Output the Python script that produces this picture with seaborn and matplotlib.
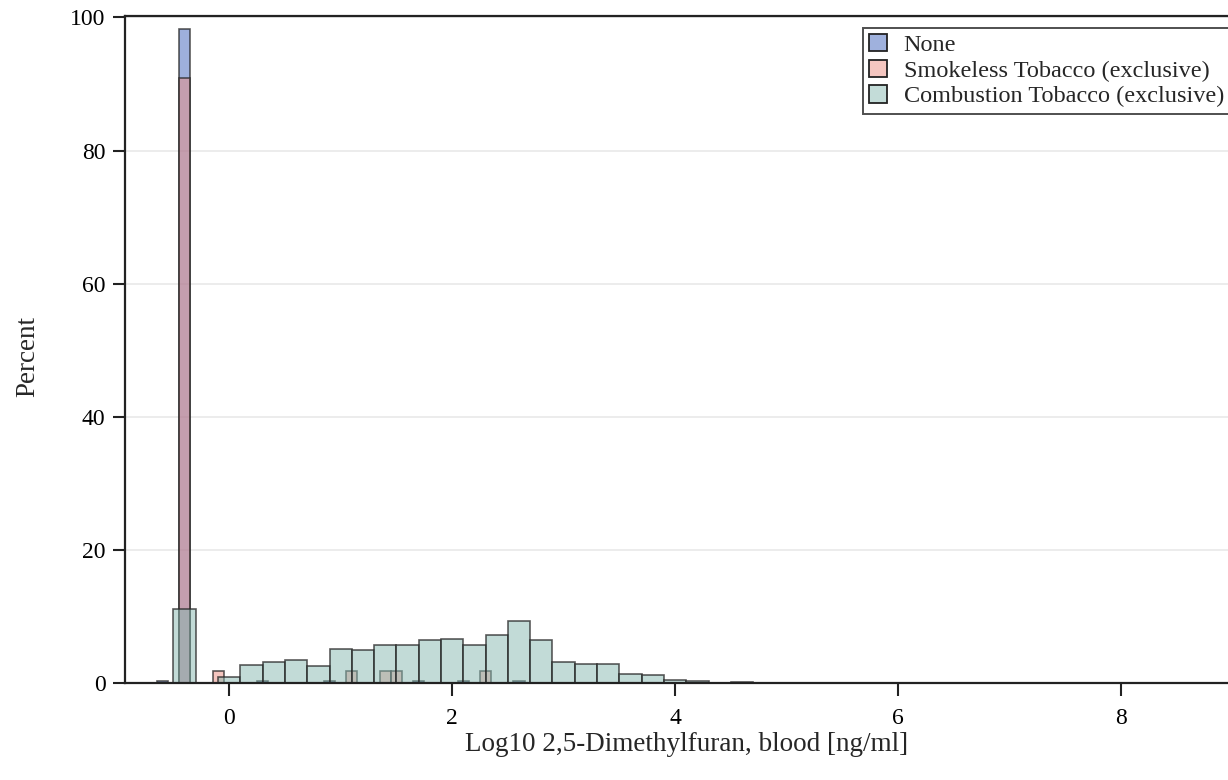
import numpy as np
import pandas as pd
import matplotlib.pyplot as plt
import matplotlib.patches as mpatches
import seaborn as sns

# Bin centers (log10 ng/ml) and percent of each group
none_x = [-0.6, -0.4, 0.3, 0.9, 1.7, 2.1, 2.6]
none_pct = [0.25, 98.2, 0.25, 0.25, 0.25, 0.3, 0.3]

smokeless_x = [-0.4, -0.1, 1.1, 1.4, 1.5, 2.3]
smokeless_pct = [90.9, 1.82, 1.82, 1.82, 1.82, 1.82]

combustion_x = [-0.4, 0.0, 0.2, 0.4, 0.6, 0.8, 1.0, 1.2, 1.4, 1.6, 1.8, 2.0,
                2.2, 2.4, 2.6, 2.8, 3.0, 3.2, 3.4, 3.6, 3.8, 4.0, 4.2, 4.6]
combustion_pct = [11.1, 0.95, 2.7, 3.2, 3.5, 2.55, 5.1, 4.9, 5.7, 5.75, 6.45, 6.6,
                  5.65, 7.15, 9.25, 6.4, 3.15, 2.8, 2.85, 1.3, 1.25, 0.5, 0.25, 0.15]

groups = ["None", "Smokeless Tobacco (exclusive)", "Combustion Tobacco (exclusive)"]
colors = ["#3f63bb", "#eb8d81", "#87b9b1"]
FILL_ALPHA = 0.5
EDGE = (0.15, 0.15, 0.15, 0.75)

sns.set_theme(style="white")
plt.rcParams['font.family'] = ['Liberation Serif', 'DejaVu Serif']

fig = plt.figure(figsize=(12.28, 7.8), dpi=100)
ax = fig.add_axes([0.1018, 0.1244, 0.9000, 0.8550])

# list of bin edges per group (list, not array: seaborn compares bins to "auto")
layers = [
    (none_x, none_pct, np.arange(-0.65, 2.70, 0.1).tolist()),
    (smokeless_x, smokeless_pct, np.arange(-0.45, 2.40, 0.1).tolist()),
    (combustion_x, combustion_pct, np.arange(-0.7, 4.75, 0.2).tolist()),
]

for (xs, pct, bins), col in zip(layers, colors):
    df = pd.DataFrame({"value": xs, "pct": pct})
    n_before = len(ax.patches)
    sns.histplot(data=df, x="value", weights="pct", bins=bins, ax=ax,
                 color=col, element="bars")
    rgb = plt.matplotlib.colors.to_rgb(col)
    for p in ax.patches[n_before:]:
        p.set_alpha(None)
        p.set_facecolor((*rgb, FILL_ALPHA))
        p.set_edgecolor(EDGE)
        p.set_linewidth(1.2)

ax.set_xlim(-0.935, 8.98)
ax.set_ylim(0, 100.2)
ax.set_xticks([0, 2, 4, 6, 8])
ax.set_yticks([0, 20, 40, 60, 80, 100])
ax.yaxis.grid(True, color="#e9e9e9", linewidth=1.2)
ax.set_axisbelow(True)

for s in ax.spines.values():
    s.set_color("#222222")
    s.set_linewidth(1.6)

ax.tick_params(axis="both", direction="out", length=9, width=1.5, color="#222222",
               labelsize=17, labelcolor="black", left=True, bottom=True)
ax.tick_params(axis="x", pad=9)
ax.tick_params(axis="y", pad=5)

ax.set_xlabel("Log10 2,5-Dimethylfuran, blood [ng/ml]", fontsize=19.5)
ax.set_ylabel("Percent", fontsize=19.5)
ax.xaxis.set_label_coords(0.508, -0.074)
ax.yaxis.set_label_coords(-0.077, 0.49)

handles = []
for col in colors:
    rgb = np.array(plt.matplotlib.colors.to_rgb(col))
    light = rgb * FILL_ALPHA + (1 - FILL_ALPHA)
    handles.append(mpatches.Patch(facecolor=light, edgecolor="#222222", linewidth=1.3))

leg = ax.legend(handles, groups, loc="upper right", bbox_to_anchor=(1.0, 0.982),
                fontsize=17.5, frameon=True, fancybox=False, handlelength=0.72,
                handleheight=0.72, handletextpad=0.7, borderpad=0.25, labelspacing=0.14,
                borderaxespad=0)
leg.get_frame().set_edgecolor("#222222")
leg.get_frame().set_linewidth(1.4)

fig.savefig("out.png", dpi=100)
